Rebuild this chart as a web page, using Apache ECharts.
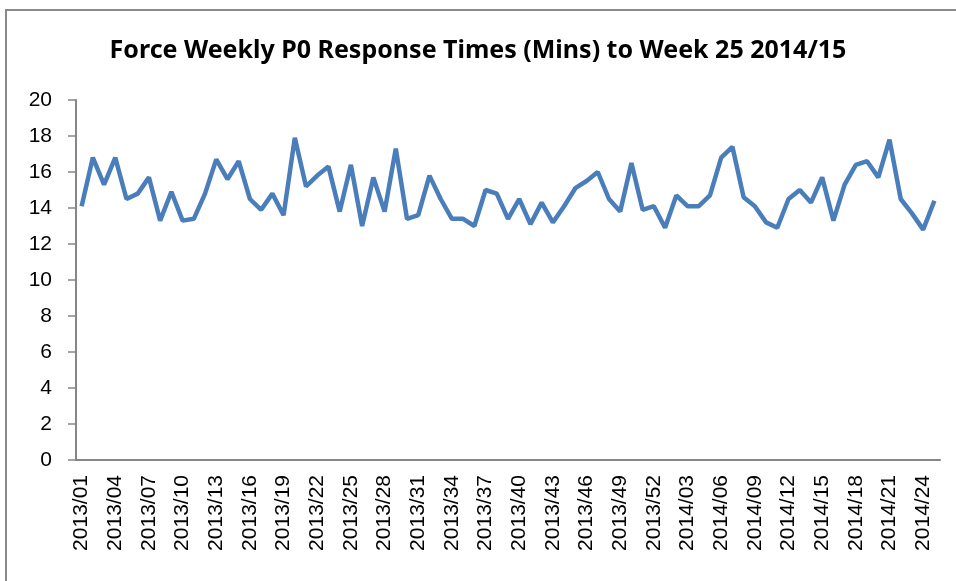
<!DOCTYPE html>
<html>
<head>
<meta charset="utf-8">
<script src="https://cdn.jsdelivr.net/npm/echarts@6/dist/echarts.min.js"></script>
<style>
  html, body { margin: 0; padding: 0; background: #fff; }
  #chart { width: 956px; height: 581px; }
</style>
</head>
<body>
<div id="chart"></div>
<script>
// weeks 2013/01 .. 2013/52, then 2014/01 .. 2014/25
var weeks = [];
for (var w = 1; w <= 52; w++) weeks.push('2013/' + (w < 10 ? '0' : '') + w);
for (var w2 = 1; w2 <= 25; w2++) weeks.push('2014/' + (w2 < 10 ? '0' : '') + w2);

var responseMins = [
  14.1, 16.8, 15.3, 16.8, 14.5, 14.8, 15.7, 13.3, 14.9, 13.3,
  13.4, 14.8, 16.7, 15.6, 16.6, 14.5, 13.9, 14.8, 13.6, 17.9,
  15.2, 15.8, 16.3, 13.8, 16.4, 13.0, 15.7, 13.8, 17.3, 13.4,
  13.6, 15.8, 14.5, 13.4, 13.4, 13.0, 15.0, 14.8, 13.4, 14.5,
  13.1, 14.3, 13.2, 14.1, 15.1, 15.5, 16.0, 14.5, 13.8, 16.5,
  13.9, 14.1, 12.9, 14.7, 14.1, 14.1, 14.7, 16.8, 17.4, 14.6,
  14.1, 13.2, 12.9, 14.5, 15.0, 14.3, 15.7, 13.3, 15.3, 16.4,
  16.6, 15.7, 17.8, 14.5, 13.7, 12.8, 14.4
];

var myChart = echarts.init(document.getElementById('chart'));
myChart.setOption({
  animation: false,
  title: {
    text: 'Force Weekly P0 Response Times (Mins) to Week 25 2014/15',
    left: 'center',
    top: 33,
    textStyle: {
      fontFamily: 'Liberation Sans Narrow, Noto Sans',
      fontSize: 25,
      fontWeight: 'bold',
      color: '#000'
    }
  },
  graphic: [{
    type: 'rect',
    shape: { x: 6, y: 10, width: 1000, height: 700 },
    style: { fill: 'none', stroke: '#898989', lineWidth: 2 }
  }],
  grid: { left: 76, right: 16, top: 100, bottom: 121 },
  xAxis: {
    type: 'category',
    data: weeks,
    boundaryGap: true,
    axisLine: { lineStyle: { color: '#868686', width: 2 } },
    axisTick: { interval: 0, length: 7, lineStyle: { color: '#868686', width: 1.5 } },
    axisLabel: {
      interval: 2,
      rotate: 90,
      margin: 15,
      color: '#000',
      fontFamily: 'Liberation Sans',
      fontSize: 21
    }
  },
  yAxis: {
    type: 'value',
    min: 0,
    max: 20,
    interval: 2,
    splitLine: { show: false },
    axisLine: { show: true, lineStyle: { color: '#868686', width: 2 } },
    axisTick: { show: true, length: 8, lineStyle: { color: '#868686', width: 1.5 } },
    axisLabel: {
      margin: 24,
      color: '#000',
      fontFamily: 'Liberation Sans',
      fontSize: 21
    }
  },
  series: [{
    type: 'line',
    data: responseMins,
    showSymbol: false,
    lineStyle: { color: '#4a7ebb', width: 4.5 },
    itemStyle: { color: '#4a7ebb' }
  }]
});
</script>
</body>
</html>
